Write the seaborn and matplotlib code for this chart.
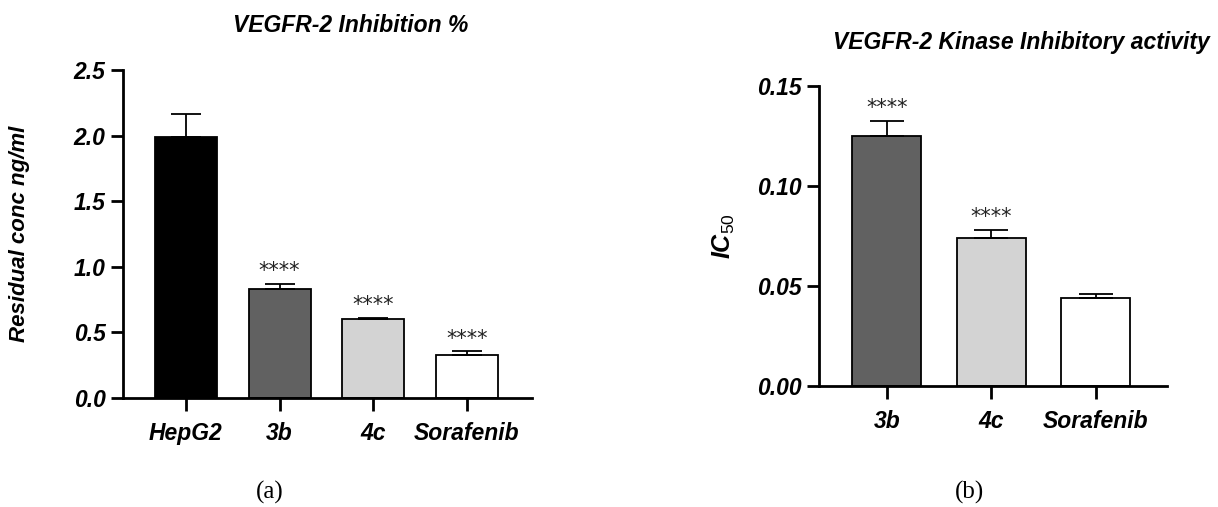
import numpy as np
import pandas as pd
import seaborn as sns
import matplotlib as mpl
mpl.use("Agg")
import matplotlib.pyplot as plt

# panel (a) data
groups_a = ["HepG2", "3b", "4c", "Sorafenib"]
conc_a = [1.99, 0.83, 0.60, 0.33]
err_a = [0.175, 0.04, 0.013, 0.027]
stars_a = ["", "****", "****", "****"]
colors_a = ["#000000", "#616161", "#d3d3d3", "#ffffff"]

# panel (b) data
groups_b = ["3b", "4c", "Sorafenib"]
ic50_b = [0.125, 0.074, 0.044]
err_b = [0.0075, 0.004, 0.0022]
stars_b = ["****", "****", ""]
colors_b = ["#616161", "#d3d3d3", "#ffffff"]

sns.set_style("ticks")
plt.rcParams["font.family"] = ["Liberation Sans", "DejaVu Sans"]
plt.rcParams["mathtext.fontset"] = "custom"
plt.rcParams["mathtext.rm"] = "Liberation Sans"
plt.rcParams["mathtext.it"] = "Liberation Sans:italic"
plt.rcParams["mathtext.bf"] = "Liberation Sans:bold:italic"
for k in ["text.color", "axes.labelcolor", "xtick.color", "ytick.color",
          "axes.edgecolor"]:
    plt.rcParams[k] = "black"

fig = plt.figure(figsize=(12.18, 5.07), dpi=100)
ax1 = fig.add_axes([123 / 1218, 1 - 398 / 507, 409 / 1218, 328 / 507])
ax2 = fig.add_axes([819 / 1218, 1 - 386 / 507, 348 / 1218, 300 / 507])

tick_font = dict(fontweight="bold", fontstyle="italic", fontsize=16.5)


def panel(ax, groups, vals, errs, stars, colors, capsize, star_off):
    df = pd.DataFrame({"g": groups, "v": vals})
    sns.barplot(data=df, x="g", y="v", hue="g", palette=colors, legend=False,
                width=0.66, edgecolor="black", linewidth=1.3, ax=ax)
    x = np.arange(len(groups))
    ax.errorbar(x, vals, yerr=[np.zeros(len(vals)), errs], fmt="none",
                ecolor="black", elinewidth=1.3, capsize=capsize, capthick=1.3)
    for xi, v, e, s in zip(x, vals, errs, stars):
        if s:
            ax.text(xi, v + e + star_off, s, ha="center", va="bottom",
                    fontsize=15, family="DejaVu Sans", color="#222222")
    sns.despine(ax=ax)
    for sp in ["left", "bottom"]:
        ax.spines[sp].set_linewidth(2.0)
    ax.tick_params(axis="both", length=9, width=2.0, direction="out")
    ax.tick_params(axis="x", pad=8)
    ax.set_xlabel("")
    ax.set_xticks(x)
    ax.set_xticklabels(groups, **tick_font)


panel(ax1, groups_a, conc_a, err_a, stars_a, colors_a, 11, 0.02)
ax1.set_xlim(-0.672, 3.694)
ax1.set_ylim(0, 2.5)
ax1.set_yticks([0, 0.5, 1.0, 1.5, 2.0, 2.5])
ax1.set_yticklabels(["0.0", "0.5", "1.0", "1.5", "2.0", "2.5"], **tick_font)
ax1.set_ylabel("Residual conc ng/ml", fontsize=16, fontweight="bold",
               fontstyle="italic")
ax1.yaxis.set_label_coords(-0.228, 0.5)

panel(ax2, groups_b, ic50_b, err_b, stars_b, colors_b, 12, 0.0015)
ax2.set_xlim(-0.65, 2.68)
ax2.set_ylim(0, 0.15)
ax2.set_yticks([0, 0.05, 0.10, 0.15])
ax2.set_yticklabels(["0.00", "0.05", "0.10", "0.15"], **tick_font)
ax2.set_ylabel(r"$\mathbf{IC}_{\mathit{50}}$", fontsize=18)
ax2.yaxis.set_label_coords(-0.235, 0.5)

fig.text(351 / 1218, 1 - 26 / 507, "VEGFR-2 Inhibition %", ha="center",
         va="center", fontsize=16.5, fontweight="bold", fontstyle="italic")
fig.text(1021 / 1218, 1 - 42 / 507, "VEGFR-2 Kinase Inhibitory activity",
         ha="center", va="center", fontsize=16.5, fontweight="bold",
         fontstyle="italic")
fig.text(270 / 1218, 1 - 492 / 507, "(a)", ha="center", va="center",
         fontsize=18, family="Liberation Serif")
fig.text(969 / 1218, 1 - 492 / 507, "(b)", ha="center", va="center",
         fontsize=18, family="Liberation Serif")

fig.savefig("out.png", dpi=100)
